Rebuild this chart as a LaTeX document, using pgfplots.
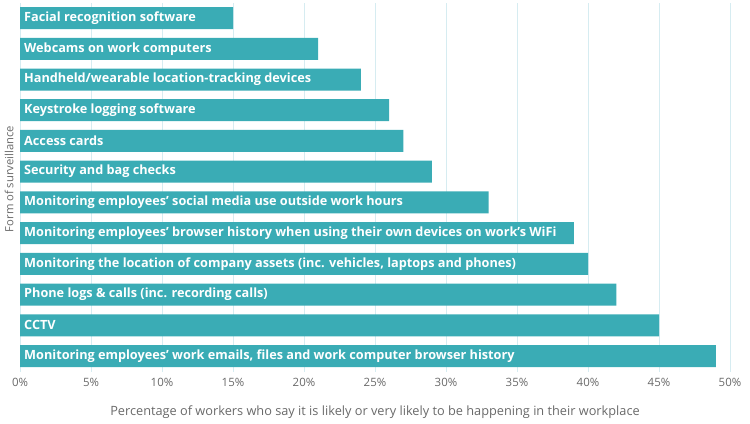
\documentclass[border=0pt]{standalone}
\usepackage{fontspec}
\setmainfont{Open Sans}
\usepackage{pgfplots}
\pgfplotsset{compat=1.18}
\definecolor{barteal}{RGB}{58,172,181}
\definecolor{gridblue}{RGB}{214,236,241}
\definecolor{txtgray}{RGB}{105,105,105}
\begin{document}
\begin{tikzpicture}
\path[use as bounding box] (-20bp,-52bp) rectangle (730bp,372bp);
\begin{axis}[
  scale only axis,
  width=710bp, height=369bp,
  at={(0,0)}, anchor=south west,
  xbar, bar width=22bp,
  xmin=0, xmax=50,
  ymin=-0.52, ymax=11.49,
  xtick={0,5,...,50},
  xticklabel={\pgfmathprintnumber{\tick}\%},
  /pgf/number format/assume math mode=true,
  ytick=\empty,
  axis line style={draw=none},
  major tick length=0pt,
  xmajorgrids,
  grid style={gridblue, line width=1pt},
  tick label style={font=\fontsize{11.5}{13}\selectfont, text=txtgray},
  xticklabel style={yshift=-3bp},
  xlabel={Percentage of workers who say it is likely or very likely to be happening in their workplace},
  xlabel style={font=\fontsize{12.8}{14}\selectfont, text=txtgray, yshift=-12bp},
  ylabel={Form of surveillance},
  ylabel style={font=\fontsize{11.3}{13}\selectfont, text=txtgray, at={(axis description cs:0,0.5)}, anchor=south, xshift=8.5bp, yshift=3bp},
  clip=false,
]
\addplot[fill=barteal, draw=none] coordinates {
  (49,0) (45,1) (42,2) (40,3) (39,4) (33,5) (29,6) (27,7) (26,8) (24,9) (21,10) (15,11)
};
\begin{scope}[every node/.style={anchor=west, text=white, inner sep=0pt, font=\bfseries\fontsize{12.75}{14}\selectfont, xshift=4bp}]
\node at (axis cs:0,0) {Monitoring employees' work emails, files and work computer browser history};
\node at (axis cs:0,1) {CCTV};
\node at (axis cs:0,2) {Phone logs \& calls (inc. recording calls)};
\node at (axis cs:0,3) {Monitoring the location of company assets (inc. vehicles, laptops and phones)};
\node at (axis cs:0,4) {Monitoring employees' browser history when using their own devices on work's WiFi};
\node at (axis cs:0,5) {Monitoring employees' social media use outside work hours};
\node at (axis cs:0,6) {Security and bag checks};
\node at (axis cs:0,7) {Access cards};
\node at (axis cs:0,8) {Keystroke logging software};
\node at (axis cs:0,9) {Handheld/wearable location-tracking devices};
\node at (axis cs:0,10) {Webcams on work computers};
\node at (axis cs:0,11) {Facial recognition software};
\end{scope}
\end{axis}
\end{tikzpicture}
\end{document}
